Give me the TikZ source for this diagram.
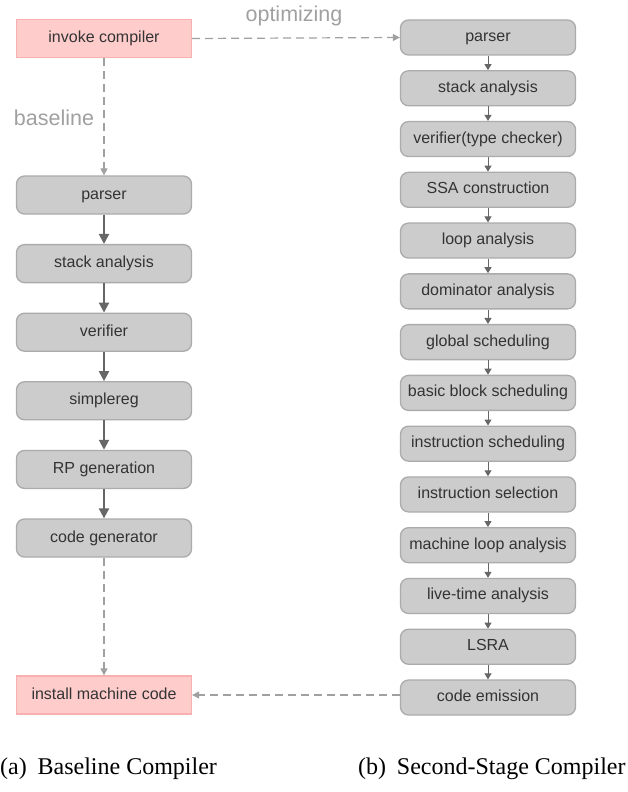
\documentclass[tikz,border=0pt]{standalone}
\usepackage{fontspec}
\setmainfont{Liberation Serif}
\newfontfamily\boxfont{Liberation Sans}
\usetikzlibrary{arrows.meta}

\definecolor{pinkfill}{HTML}{FFCCCC}
\definecolor{pinkline}{HTML}{F8AFAF}
\definecolor{stepfill}{HTML}{CCCCCC}
\definecolor{stepline}{HTML}{ABABAB}
\definecolor{steptext}{HTML}{333333}
\definecolor{flowdark}{HTML}{666666}
\definecolor{flowlight}{HTML}{A0A0A0}

\tikzset{
  entrybox/.style={draw=pinkline, fill=pinkfill, line width=1.3pt,
    minimum width=175pt, minimum height=38pt, inner sep=0pt,
    text height=11pt, text depth=3pt,
    text=steptext, font=\boxfont\fontsize{16}{19}\selectfont},
  basebox/.style={draw=stepline, fill=stepfill, line width=1.3pt,
    rounded corners=8pt, minimum width=175pt, minimum height=38pt,
    inner sep=0pt, text height=11pt, text depth=3pt,
    text=steptext, font=\boxfont\fontsize{16}{19}\selectfont},
  optbox/.style={basebox, minimum height=35pt},
  basearrow/.style={draw=flowdark, line width=2pt,
    -{Triangle[length=10pt,width=10pt]}},
  optarrow/.style={draw=flowdark, line width=1pt,
    -{Triangle[length=6pt,width=7pt]}},
  jumparrow/.style={draw=flowlight, line width=1.2pt,
    dash pattern=on 8pt off 5pt, -{Triangle[length=7pt,width=7pt]}},
  pathlabel/.style={text=flowlight, font=\boxfont\fontsize{21.5}{24}\selectfont},
  caption/.style={font=\fontsize{24}{28}\selectfont, anchor=west, inner sep=0pt}
}

\begin{document}
\begin{tikzpicture}[x=1pt,y=-1pt]
\useasboundingbox (0,0) rectangle (628,792);

% entry and exit of the pipeline
\node[entrybox] (invoke) at (104,38.5) {invoke compiler};
\node[entrybox] (install) at (104,695) {install machine code};

% baseline compiler stages
\foreach \name/\txt [count=\i from 0] in {
    bparse/parser, bstack/stack analysis, bverify/verifier,
    bsimple/simplereg, brp/RP generation, bcode/code generator} {
  \node[basebox] (\name) at (104,195+68.6*\i) {\txt};
}

% second-stage compiler stages
\foreach \name/\txt [count=\i from 0] in {
    oparse/parser, ostack/stack analysis, overify/verifier(type checker),
    ossa/SSA construction, oloop/loop analysis, odom/dominator analysis,
    oglobal/global scheduling, obb/basic block scheduling,
    oinsn/instruction scheduling, osel/instruction selection,
    omloop/machine loop analysis, olive/live-time analysis,
    olsra/LSRA, oemit/code emission} {
  \node[optbox] (\name) at (488,37.5+50.77*\i) {\txt};
}

% baseline chain
\foreach \a/\b in {bparse/bstack, bstack/bverify, bverify/bsimple,
                   bsimple/brp, brp/bcode} {
  \draw[basearrow] (\a.south) -- (\b.north);
}

% second-stage chain
\foreach \a/\b in {oparse/ostack, ostack/overify, overify/ossa, ossa/oloop,
                   oloop/odom, odom/oglobal, oglobal/obb, obb/oinsn,
                   oinsn/osel, osel/omloop, omloop/olive, olive/olsra,
                   olsra/oemit} {
  \draw[optarrow] (\a.south) -- (\b.north);
}

% dispatch and install paths
\draw[jumparrow] (invoke.east) -- (oparse.west);
\draw[jumparrow] (invoke.south) -- (bparse.north);
\draw[jumparrow] (bcode.south) -- (install.north);
\draw[jumparrow] (oemit.west |- install.east) -- (install.east);

\node[pathlabel] (optlabel) at (294,16) {optimizing};
\node[pathlabel] (baselabel) at (54,118) {baseline};

% sub-figure captions
\node[caption] (capa) at (0,769) {(a)\hspace{0.45em}Baseline Compiler};
\node[caption] (capb) at (358,769) {(b)\hspace{0.45em}Second-Stage Compiler};
\end{tikzpicture}
\end{document}
